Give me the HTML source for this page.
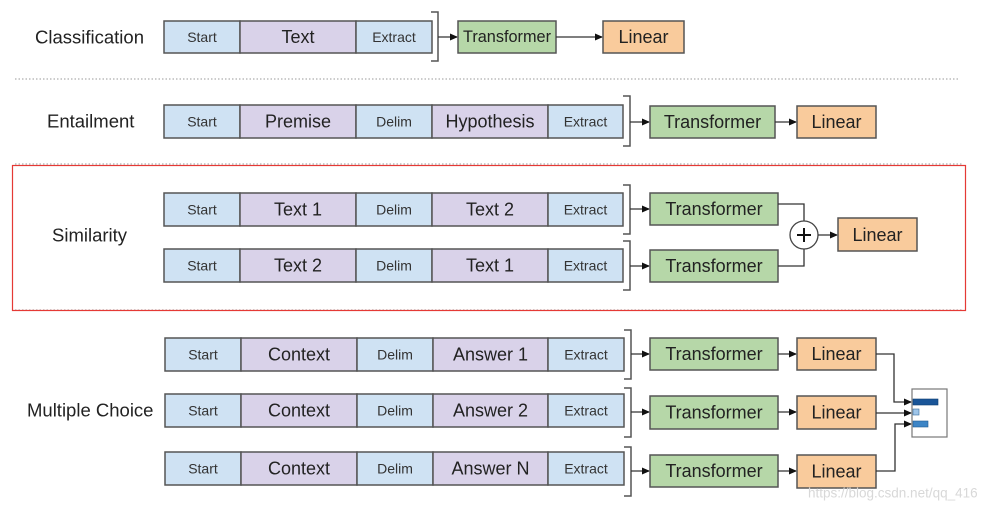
<!DOCTYPE html>
<html><head><meta charset="utf-8"><style>
html,body{margin:0;padding:0;background:#fff;}
svg{display:block;font-family:"Liberation Sans",sans-serif;}
.b{fill:#cfe2f3;stroke:#555;stroke-width:1.5}
.p{fill:#d9d2e9;stroke:#555;stroke-width:1.5}
.g{fill:#b6d7a8;stroke:#555;stroke-width:1.5}
.o{fill:#f9cb9c;stroke:#555;stroke-width:1.5}
.s{font-size:14px;fill:#333;text-anchor:middle;dominant-baseline:central}
.l{font-size:18px;fill:#222;text-anchor:middle;dominant-baseline:central}
.t{font-size:18.5px;fill:#222;dominant-baseline:central}
.br{fill:none;stroke:#555;stroke-width:1.5}
.ln{fill:none;stroke:#333;stroke-width:1.3}
.dot{stroke:#999;stroke-width:1;stroke-dasharray:1.5 2}
</style></head><body>
<svg width="994" height="532" viewBox="0 0 994 532" xmlns="http://www.w3.org/2000/svg">
<defs><marker id="a" markerWidth="8" markerHeight="8" refX="7" refY="4" orient="auto" markerUnits="userSpaceOnUse"><path d="M0,0.5 L8,4 L0,7.5z" fill="#111"/></marker></defs>

<text class="t" x="35" y="37">Classification</text>
<text class="t" x="47" y="121">Entailment</text>
<text class="t" x="52" y="235">Similarity</text>
<text class="t" x="27" y="410">Multiple Choice</text>

<line class="dot" x1="15" y1="79" x2="958" y2="79"/>
<line class="dot" x1="15" y1="164" x2="962" y2="164"/>
<line class="dot" x1="15" y1="310" x2="962" y2="310"/>
<rect x="12.5" y="165.5" width="953" height="145" fill="none" stroke="#e53935" stroke-width="1.2"/>

<rect class="b" x="164" y="21" width="76" height="32"/><text class="s" x="202" y="37">Start</text>
<rect class="p" x="240" y="21" width="116" height="32"/><text class="l" x="298" y="37">Text</text>
<rect class="b" x="356" y="21" width="76" height="32"/><text class="s" x="394" y="37">Extract</text>
<path class="br" d="M431,12 H438 V61 H431"/>
<line class="ln" x1="438" y1="37" x2="457" y2="37" marker-end="url(#a)"/>
<rect class="g" x="458" y="21" width="98" height="32"/><text class="l" x="507" y="37" style="font-size:16.5px" textLength="88" lengthAdjust="spacingAndGlyphs">Transformer</text>
<line class="ln" x1="556" y1="37" x2="602" y2="37" marker-end="url(#a)"/>
<rect class="o" x="603" y="21" width="81" height="32"/><text class="l" x="643.5" y="37">Linear</text>

<rect class="b" x="164" y="105" width="76" height="33"/><text class="s" x="202" y="121.5">Start</text>
<rect class="p" x="240" y="105" width="116" height="33"/><text class="l" x="298" y="121.5">Premise</text>
<rect class="b" x="356" y="105" width="76" height="33"/><text class="s" x="394" y="121.5">Delim</text>
<rect class="p" x="432" y="105" width="116" height="33"/><text class="l" x="490" y="121.5">Hypothesis</text>
<rect class="b" x="548" y="105" width="75" height="33"/><text class="s" x="585.5" y="121.5">Extract</text>
<path class="br" d="M623,96 H630 V146 H623"/>
<line class="ln" x1="630" y1="122" x2="649" y2="122" marker-end="url(#a)"/>
<rect class="g" x="650" y="106" width="125" height="32"/><text class="l" x="712.5" y="122">Transformer</text>
<line class="ln" x1="775" y1="122" x2="796" y2="122" marker-end="url(#a)"/>
<rect class="o" x="797" y="106" width="79" height="32"/><text class="l" x="836.5" y="122">Linear</text>

<rect class="b" x="164" y="193" width="76" height="33"/><text class="s" x="202" y="209.5">Start</text>
<rect class="p" x="240" y="193" width="116" height="33"/><text class="l" x="298" y="209.5">Text 1</text>
<rect class="b" x="356" y="193" width="76" height="33"/><text class="s" x="394" y="209.5">Delim</text>
<rect class="p" x="432" y="193" width="116" height="33"/><text class="l" x="490" y="209.5">Text 2</text>
<rect class="b" x="548" y="193" width="75" height="33"/><text class="s" x="585.5" y="209.5">Extract</text>
<path class="br" d="M623,185 H630 V234 H623"/>
<line class="ln" x1="630" y1="209" x2="649" y2="209" marker-end="url(#a)"/>
<rect class="g" x="650" y="193" width="128" height="32"/><text class="l" x="714" y="209">Transformer</text>

<rect class="b" x="164" y="249" width="76" height="33"/><text class="s" x="202" y="265.5">Start</text>
<rect class="p" x="240" y="249" width="116" height="33"/><text class="l" x="298" y="265.5">Text 2</text>
<rect class="b" x="356" y="249" width="76" height="33"/><text class="s" x="394" y="265.5">Delim</text>
<rect class="p" x="432" y="249" width="116" height="33"/><text class="l" x="490" y="265.5">Text 1</text>
<rect class="b" x="548" y="249" width="75" height="33"/><text class="s" x="585.5" y="265.5">Extract</text>
<path class="br" d="M623,241 H630 V290 H623"/>
<line class="ln" x1="630" y1="266" x2="649" y2="266" marker-end="url(#a)"/>
<rect class="g" x="650" y="250" width="128" height="32"/><text class="l" x="714" y="266">Transformer</text>

<path class="ln" d="M778,204 H804 V221"/>
<path class="ln" d="M778,266 H804 V249"/>
<circle cx="804" cy="235" r="14" fill="#fff" stroke="#444" stroke-width="1.3"/>
<path d="M797,235 H811 M804,228 V242" stroke="#111" stroke-width="2"/>
<line class="ln" x1="818" y1="235" x2="837" y2="235" marker-end="url(#a)"/>
<rect class="o" x="838" y="218" width="79" height="33"/><text class="l" x="877.5" y="235">Linear</text>

<rect class="b" x="165" y="338" width="76" height="33"/><text class="s" x="203" y="354.5">Start</text>
<rect class="p" x="241" y="338" width="116" height="33"/><text class="l" x="299" y="354.5">Context</text>
<rect class="b" x="357" y="338" width="76" height="33"/><text class="s" x="395" y="354.5">Delim</text>
<rect class="p" x="433" y="338" width="115" height="33"/><text class="l" x="490.5" y="354.5">Answer 1</text>
<rect class="b" x="548" y="338" width="76" height="33"/><text class="s" x="586" y="354.5">Extract</text>
<path class="br" d="M624,330 H631 V379 H624"/>
<line class="ln" x1="631" y1="354" x2="649" y2="354" marker-end="url(#a)"/>
<rect class="g" x="650" y="338" width="128" height="32"/><text class="l" x="714" y="354">Transformer</text>
<line class="ln" x1="778" y1="354" x2="796" y2="354" marker-end="url(#a)"/>
<rect class="o" x="797" y="338" width="79" height="32"/><text class="l" x="836.5" y="354">Linear</text>

<rect class="b" x="165" y="394" width="76" height="33"/><text class="s" x="203" y="410.5">Start</text>
<rect class="p" x="241" y="394" width="116" height="33"/><text class="l" x="299" y="410.5">Context</text>
<rect class="b" x="357" y="394" width="76" height="33"/><text class="s" x="395" y="410.5">Delim</text>
<rect class="p" x="433" y="394" width="115" height="33"/><text class="l" x="490.5" y="410.5">Answer 2</text>
<rect class="b" x="548" y="394" width="76" height="33"/><text class="s" x="586" y="410.5">Extract</text>
<path class="br" d="M624,388 H631 V437 H624"/>
<line class="ln" x1="631" y1="412" x2="649" y2="412" marker-end="url(#a)"/>
<rect class="g" x="650" y="396" width="128" height="33"/><text class="l" x="714" y="412.5">Transformer</text>
<line class="ln" x1="778" y1="412" x2="796" y2="412" marker-end="url(#a)"/>
<rect class="o" x="797" y="396" width="79" height="33"/><text class="l" x="836.5" y="412.5">Linear</text>

<rect class="b" x="165" y="452" width="76" height="33"/><text class="s" x="203" y="468.5">Start</text>
<rect class="p" x="241" y="452" width="116" height="33"/><text class="l" x="299" y="468.5">Context</text>
<rect class="b" x="357" y="452" width="76" height="33"/><text class="s" x="395" y="468.5">Delim</text>
<rect class="p" x="433" y="452" width="115" height="33"/><text class="l" x="490.5" y="468.5">Answer N</text>
<rect class="b" x="548" y="452" width="76" height="33"/><text class="s" x="586" y="468.5">Extract</text>
<path class="br" d="M624,447 H631 V496 H624"/>
<line class="ln" x1="631" y1="471" x2="649" y2="471" marker-end="url(#a)"/>
<rect class="g" x="650" y="455" width="128" height="32"/><text class="l" x="714" y="471">Transformer</text>
<line class="ln" x1="778" y1="471" x2="796" y2="471" marker-end="url(#a)"/>
<rect class="o" x="797" y="455" width="79" height="33"/><text class="l" x="836.5" y="471.5">Linear</text>

<path class="ln" d="M876,354 H894 V402 H911" marker-end="url(#a)"/>
<line class="ln" x1="876" y1="413" x2="911" y2="413" marker-end="url(#a)"/>
<path class="ln" d="M876,471 H895 V424 H911" marker-end="url(#a)"/>
<rect x="912" y="389" width="35" height="48" fill="#fff" stroke="#777" stroke-width="1.2"/>
<rect x="913" y="399" width="25" height="6" fill="#1a5598" stroke="#0d3c70" stroke-width="0.6"/>
<rect x="913" y="409" width="6" height="6" fill="#9fc5e8" stroke="#3d6f9e" stroke-width="0.6"/>
<rect x="913" y="421" width="15" height="6" fill="#3d85c6" stroke="#1f5a92" stroke-width="0.6"/>

<text x="808" y="493" font-size="13.5" fill="#d8d8d8" dominant-baseline="central">https://blog.csdn.net/qq_416</text>
</svg>
</body></html>
